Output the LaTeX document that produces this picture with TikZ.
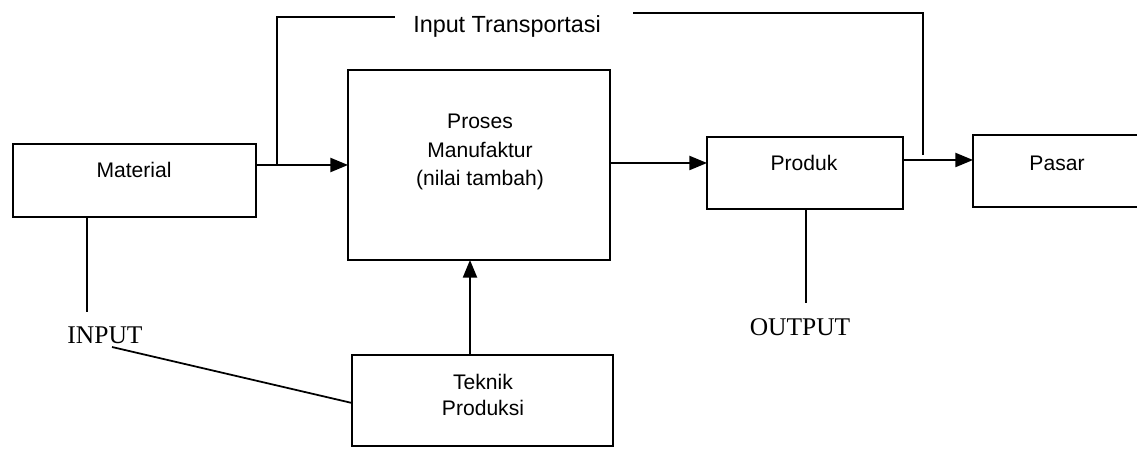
\documentclass[tikz,border=0pt]{standalone}
\usepackage{fontspec}
\setmainfont{Liberation Sans}
\newfontfamily\serifcap{Liberation Serif}
\usetikzlibrary{arrows.meta}
\begin{document}
\begin{tikzpicture}[x=0.02cm,y=-0.02cm, line width=1pt,
  box/.style={draw, rectangle, inner sep=0pt, outer sep=0pt},
  lbl/.style={font=\fontsize{12}{16}\selectfont, align=center, inner sep=0pt},
  captxt/.style={font=\serifcap\fontsize{14.5}{16}\selectfont, inner sep=0pt},
  arr/.style={-{Triangle[length=10pt,width=8pt]}}]
\useasboundingbox (0,0) rectangle (1137,449);

% boxes
\node[box, minimum width=4.86cm, minimum height=1.46cm] (mat) at (134.5,180.5) {};
\node[box, minimum width=5.24cm, minimum height=3.8cm] (proses) at (479,165) {};
\node[box, minimum width=3.92cm, minimum height=1.44cm] (produk) at (805,173) {};
\node[box, minimum width=3.36cm, minimum height=1.44cm] (pasar) at (1057,171) {};
\node[box, minimum width=5.22cm, minimum height=1.82cm] (teknik) at (482.5,400.5) {};

% texts
\node[lbl] (tmat) at (134,170) {Material};
\node[lbl] (tpro) at (480,152) {Proses\\Manufaktur\\(nilai tambah)};
\node[lbl] (tprod) at (804,163) {Produk};
\node[lbl] (tpas) at (1057,163) {Pasar};
\node[lbl, font=\fontsize{12}{15}\selectfont] (ttek) at (483,395) {Teknik\\Produksi};
\node[lbl, font=\fontsize{13.3}{16}\selectfont] (transp) at (507,26) {Input Transportasi};
\node[captxt] (input) at (105,335) {INPUT};
\node[captxt] (output) at (800,327) {OUTPUT};

% helper coordinates
\coordinate (tb) at (277,165);
\coordinate (tl) at (277,17);
\coordinate (tle) at (395,17);
\coordinate (trs) at (633,13);
\coordinate (trc) at (923,13);
\coordinate (trb) at (923,155);
\coordinate (matdown) at (87,312);
\coordinate (inpend) at (112,347);
\coordinate (proddown) at (806,303);

% connectors
\draw[arr] (proses.west -| mat.east) -- (proses.west);
\draw (tb) -- (tl) -- (tle);
\draw (trs) -- (trc) -- (trb);
\draw[arr] (proses.east |- 0,163) -- (produk.west |- 0,163);
\draw[arr] (produk.east |- 0,160) -- (pasar.west |- 0,160);
\draw (mat.south -| matdown) -- (matdown);
\draw (inpend) -- (teknik.west |- 0,403);
\draw[arr] (teknik.north -| 470,0) -- (proses.south -| 470,0);
\draw (produk.south -| proddown) -- (proddown);
\end{tikzpicture}
\end{document}
